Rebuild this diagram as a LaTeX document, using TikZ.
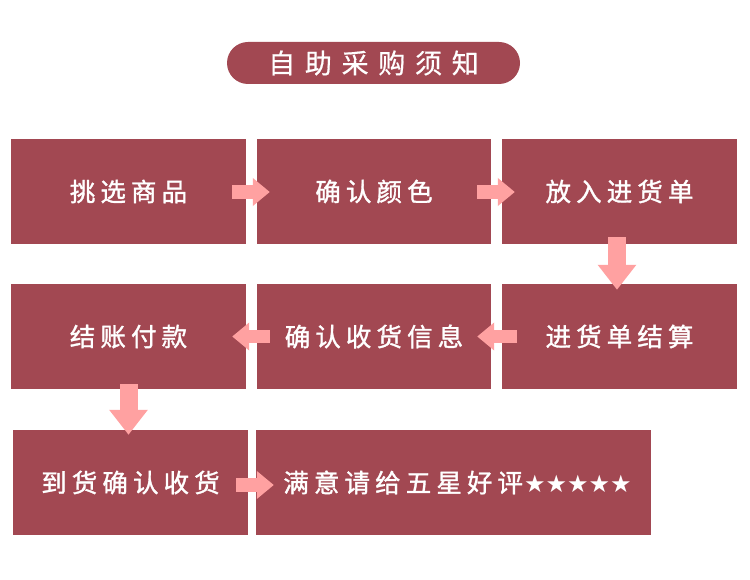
\documentclass[tikz,border=0pt]{standalone}
\usepackage{fontspec}
\newfontfamily\cjk[LetterSpace=20,FakeBold=1.3]{Noto Sans CJK SC}
\newfontfamily\cjkt[LetterSpace=36,FakeBold=0.6]{Noto Sans CJK SC}
\newfontfamily\sym{DejaVu Sans}
\usetikzlibrary{arrows.meta,calc}
\definecolor{maroon}{RGB}{162,72,82}
\definecolor{pinkarr}{RGB}{255,161,161}
\tikzset{
  box/.style={fill=maroon, minimum width=235pt, minimum height=105pt, inner sep=0pt,
    text=white, font=\cjk\fontsize{25.5}{30}\selectfont},
  titlebox/.style={fill=maroon, rounded corners=21pt, minimum width=293pt, minimum height=42pt,
    inner sep=0pt, text=white, font=\cjkt\fontsize{27}{30}\selectfont},
  harrow/.style={draw=pinkarr, line width=13.5pt, -{Triangle[width=27pt,length=17pt]}},
  varrow/.style={draw=pinkarr, line width=18pt, -{Triangle[width=37pt,length=25pt]}}
}
\begin{document}
\begin{tikzpicture}[x=1pt,y=-1pt]
\fill[white] (0,0) rectangle (750,580);
\useasboundingbox (0,0) rectangle (750,580);
\node[titlebox] (title) at (373.5,63) {自助采购须知};
\node[box] (b1) at (128.5,191.5) {\raisebox{-1.5pt}{挑选商品}};
\node[box, minimum width=234pt] (b2) at (374,191.5) {\raisebox{-1.5pt}{确认颜色}};
\node[box] (b3) at (619.5,191.5) {\raisebox{-1.5pt}{放入进货单}};
\node[box] (b4) at (128.5,336.5) {\raisebox{-1.5pt}{结账付款}};
\node[box, minimum width=234pt] (b5) at (374,336.5) {\raisebox{-1.5pt}{确认收货信息}};
\node[box] (b6) at (619.5,336.5) {\raisebox{-1.5pt}{进货单结算}};
\node[box] (b7) at (130.5,482.5) {\raisebox{-1.5pt}{到货确认收货}};
\node[box, minimum width=395pt] (b8) at (453.5,482.5) {\hspace{8pt}\raisebox{-1.5pt}{满意请给五星好评\hspace{1pt}{\sym\fontsize{24}{28}\selectfont ★★★★★}}};
% arrows
\draw[harrow] ($(b1.east)+(-14,0.5)$) -- ($(b2.west)+(13,0.5)$);
\draw[harrow] ($(b2.east)+(-14,0.5)$) -- ($(b3.west)+(13,0.5)$);
\draw[varrow] ($(b3.south)+(-2.5,-7)$) -- ($(b6.north)+(-2.5,6)$);
\draw[harrow] ($(b6.west)+(15,0)$) -- ($(b5.east)+(-14,0)$);
\draw[harrow] ($(b5.west)+(13,0)$) -- ($(b4.east)+(-14,0)$);
\draw[varrow] ($(b4.south)+(0,-5)$) -- ($(b7.north)+(-2,5)$);
\draw[harrow] ($(b7.east)+(-12,2.5)$) -- ($(b8.west)+(18,2.5)$);
\end{tikzpicture}
\end{document}
